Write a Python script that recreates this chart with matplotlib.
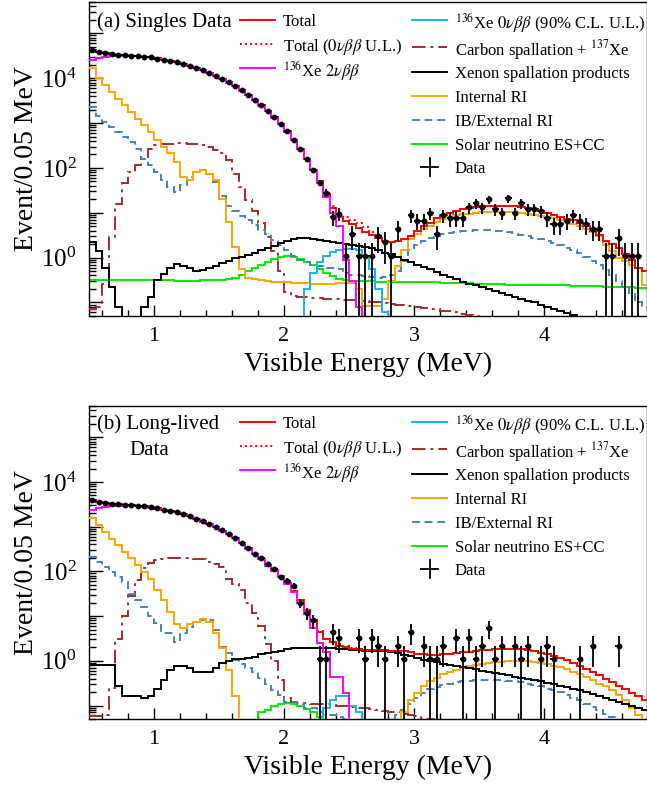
import numpy as np
import matplotlib
matplotlib.use("Agg")
import matplotlib.pyplot as plt
from matplotlib.lines import Line2D
from matplotlib.ticker import LogLocator, FixedLocator, NullFormatter, FuncFormatter, MultipleLocator

plt.rcParams['font.family'] = ['Liberation Serif', 'DejaVu Serif']
plt.rcParams['mathtext.fontset'] = 'stix'

# ---------------- binning ----------------
bin_width = 0.05
e_min, e_max = 0.5, 4.8
edges = np.round(np.arange(e_min, e_max + bin_width / 2, bin_width), 3)
centers = 0.5 * (edges[:-1] + edges[1:])

# ---------------- panel (a): Singles data ----------------
data_a = [
    41500, 38000, 36000, 34400, 33200, 32600, 32000, 31500, 30400, 29400,
    27400, 26100, 24300, 22700, 20900, 19100, 17000, 15100, 13300, 11400,
    9800, 8100, 6600, 5400, 4200, 3270, 2480, 1890, 1340, 930,
    660, 430, 270, 162, 92, 46, 28, 8.0, 9.5, 1.1,
    3.3, 1.1, 1.1, 1.1, 3.0, 2.2, 1.1, 4.4, 0, 8.8,
    6.6, 6.6, 9.9, 3.3, 8.8, 7.7, 7.7, 7.7, 13.2, 16.5,
    13.2, 19.8, 12.1, 9.9, 20.9, 9.9, 16.5, 12.1, 12.1, 11.0,
    7.7, 5.5, 5.5, 6.6, 8.8, 6.6, 5.5, 4.4, 4.4, 1.1,
    1.1, 2.75, 1.1, 1.1, 1.1, 0]
total_a = [
    42000, 38500, 36000, 34500, 33300, 32600, 32000, 31300, 30400, 29300,
    27600, 26000, 24400, 22700, 20900, 19000, 17000, 15100, 13200, 11400,
    9700, 8100, 6700, 5400, 4200, 3250, 2480, 1870, 1350, 940,
    650, 430, 270, 160, 92, 50, 25, 13, 8.0, 6.5,
    5.5, 4.5, 3.7, 3.2, 2.8, 2.4, 2.2, 2.3, 2.6, 3.1,
    3.9, 5.0, 6.0, 7.5, 8.7, 10, 11, 12, 13, 13.5,
    14, 14.3, 14.5, 14.5, 14.5, 14, 13.5, 12.8, 12, 11,
    10, 9, 8, 7.3, 6.8, 6.0, 5.0, 4.0, 3.2, 2.4,
    2.0, 1.6, 1.2, 0.9, 0.6, 0.5]
xe2v_a = [
    26000, 28000, 29500, 30500, 31000, 31000, 31000, 30800, 30000, 29000,
    27300, 25800, 24200, 22600, 20800, 18900, 16900, 15000, 13100, 11300,
    9600, 8000, 6600, 5300, 4150, 3200, 2450, 1850, 1330, 930,
    640, 420, 265, 155, 88, 45, 22, 10, 5.0, 0.9,
    0.3, 0.08] + [0] * 44
xe0v_a = [0] * 33 + [0.2, 0.45, 0.8, 1.1, 1.35, 1.5, 1.55, 1.55, 1.5, 1.1, 0.55, 0.2, 0.06] + [0] * 40
carbon_a = [
    0.07, 0.08, 0.26, 2.9, 16, 45, 80, 115, 178, 270,
    325, 345, 350, 355, 355, 350, 340, 325, 300, 250,
    210, 150, 75, 38, 19, 11, 6.0, 2.9, 1.4, 0.5,
    0.17, 0.14, 0.135, 0.13, 0.128, 0.125, 0.122, 0.12, 0.118, 0.115,
    0.112, 0.11, 0.107, 0.104, 0.10, 0.097, 0.094, 0.09, 0.087, 0.083,
    0.08, 0.077, 0.073, 0.07, 0.066, 0.063, 0.06, 0.056, 0.053, 0.05,
    0.047, 0.044, 0.04, 0.038, 0.036, 0.034, 0.032, 0.03, 0.028, 0.027,
    0.026, 0.025, 0.024, 0.023, 0.022, 0.021, 0.02, 0.019, 0.018, 0.017,
    0.016, 0.015, 0.014, 0.013, 0.012, 0.011]
xenon_a = [
    2.2, 1.4, 0.59, 0.22, 0.078, 0.03, 0.03, 0.048, 0.078, 0.13,
    0.31, 0.44, 0.59, 0.72, 0.66, 0.59, 0.51, 0.53, 0.59, 0.66,
    0.77, 0.85, 1.0, 1.05, 1.15, 1.3, 1.45, 1.6, 1.8, 2.1,
    2.35, 2.6, 2.7, 2.75, 2.6, 2.5, 2.3, 2.2, 2.1, 2.0,
    1.95, 1.85, 1.75, 1.6, 1.45, 1.3, 1.2, 1.05, 0.9, 0.8,
    0.7, 0.62, 0.55, 0.48, 0.42, 0.37, 0.33, 0.29, 0.26, 0.24,
    0.22, 0.2, 0.18, 0.165, 0.15, 0.135, 0.12, 0.11, 0.1, 0.09,
    0.08, 0.072, 0.065, 0.058, 0.053, 0.048, 0.044, 0.04, 0.036, 0.033,
    0.03, 0.027, 0.025, 0.023, 0.021, 0.019]
internal_a = [
    16600, 10000, 7000, 5000, 3500, 2500, 1800, 1260, 900, 640,
    420, 300, 210, 135, 63, 53, 81, 89, 74, 53,
    20, 6.2, 1.7, 0.56, 0.36, 0.33, 0.31, 0.30, 0.29, 0.28,
    0.28, 0.27, 0.27, 0.27, 0.26, 0.26, 0.26, 0.26, 0.27, 0.27,
    0.27, 0.20, 0.085, 0.085, 0.085, 0.12, 0.30, 0.64, 1.45, 2.6,
    3.4, 4.4, 5.2, 6.2, 7.3, 8.0, 8.7, 9.2, 9.6, 10.0,
    10.2, 10.4, 10.5, 10.5, 10.4, 10.2, 10.0, 9.5, 9.0, 8.5,
    8.0, 7.5, 7.0, 6.3, 5.6, 5.0, 4.4, 3.7, 3.0, 1.9,
    1.4, 1.0, 0.85, 0.70, 0.60, 0.25]
external_a = [
    2300, 1450, 1080, 830, 640, 490, 380, 270, 162, 115,
    81, 53, 38, 29, 41, 63, 81, 89, 74, 49,
    24, 14, 11, 8.5, 6.8, 5.3, 4.2, 3.3, 2.5, 1.9,
    1.45, 1.1, 0.9, 0.78, 0.70, 0.65, 0.60, 0.58, 0.56, 0.45,
    0.42, 0.40, 0.38, 0.37, 0.36, 0.37, 0.40, 0.50, 0.85, 1.45,
    1.9, 2.4, 2.8, 3.1, 3.4, 3.6, 3.8, 3.9, 4.0, 4.05,
    4.1, 4.1, 4.0, 3.9, 3.7, 3.5, 3.2, 3.0, 2.8, 2.6,
    2.3, 2.1, 1.9, 1.65, 1.45, 1.25, 1.05, 0.85, 0.68, 0.52,
    0.40, 0.30, 0.22, 0.16, 0.10, 0.08]
solar_a = [
    0.32, 0.32, 0.32, 0.32, 0.32, 0.32, 0.32, 0.32, 0.315, 0.315,
    0.31, 0.31, 0.31, 0.305, 0.305, 0.305, 0.305, 0.31, 0.31, 0.315,
    0.32, 0.33, 0.36, 0.42, 0.50, 0.60, 0.70, 0.80, 0.92, 1.02,
    1.08, 1.05, 0.95, 0.82, 0.68, 0.55, 0.45, 0.38, 0.33, 0.31,
    0.30, 0.30, 0.30, 0.30, 0.29, 0.29, 0.29, 0.29, 0.29, 0.28,
    0.28, 0.28, 0.28, 0.28, 0.27, 0.27, 0.27, 0.27, 0.27, 0.26,
    0.26, 0.26, 0.26, 0.26, 0.25, 0.25, 0.25, 0.25, 0.25, 0.24,
    0.24, 0.24, 0.24, 0.24, 0.23, 0.23, 0.23, 0.23, 0.23, 0.22,
    0.22, 0.22, 0.22, 0.22, 0.21, 0.21]

# ---------------- panel (b): Long-lived data ----------------
data_b = [
    4000, 3650, 3400, 3250, 3150, 3080, 3000, 2930, 2850, 2700,
    2560, 2420, 2270, 2100, 1900, 1700, 1500, 1320, 1130, 980,
    830, 700, 560, 440, 330, 250, 200, 150, 115, 76,
    62, 47, 19.5, 11.7, 8.0, 1.1, 1.1, 4.4, 3.3, 0,
    0, 3.3, 1.1, 3.3, 2.2, 1.1, 0, 2.2, 1.1, 4.4,
    0, 2.2, 1.1, 1.1, 2.2, 0, 3.3, 1.1, 3.3, 1.1,
    2.2, 5.5, 1.1, 2.2, 0, 2.2, 1.1, 2.2, 0, 1.1,
    2.2, 1.1, 0, 0, 0, 1.1, 0, 2.2, 0, 0,
    0, 2.2, 0, 0, 0, 0]
total_b = [
    4050, 3650, 3420, 3260, 3150, 3070, 3000, 2920, 2830, 2700,
    2570, 2420, 2260, 2090, 1900, 1700, 1500, 1310, 1130, 970,
    820, 690, 560, 440, 330, 250, 190, 140, 105, 78,
    55, 37, 23, 14, 8.0, 4.5, 3.0, 2.6, 2.2, 2.0,
    1.85, 1.8, 1.75, 1.75, 1.75, 1.75, 1.7, 1.7, 1.65, 1.55,
    1.45, 1.4, 1.38, 1.38, 1.4, 1.45, 1.5, 1.55, 1.6, 1.65,
    1.72, 1.78, 1.82, 1.85, 1.87, 1.85, 1.8, 1.72, 1.63, 1.53,
    1.42, 1.3, 1.15, 1.02, 0.9, 0.78, 0.67, 0.57, 0.48, 0.4,
    0.34, 0.28, 0.23, 0.19, 0.16, 0.13]
xe2v_b = [
    2400, 2650, 2800, 2900, 2950, 2950, 2930, 2880, 2800, 2670,
    2540, 2400, 2250, 2080, 1890, 1690, 1490, 1300, 1120, 960,
    810, 680, 550, 430, 320, 245, 185, 135, 100, 74,
    52, 34, 20, 11, 5.5, 2.5, 1.6, 0.44, 0.44, 0.19,
    0.03] + [0] * 45
xe0v_b = [0] * 35 + [0.04, 0.09, 0.135, 0.16, 0.16, 0.1, 0.07, 0.03] + [0] * 43
carbon_b = [
    0.057, 0.057, 0.06, 0.25, 3.0, 10, 28, 65, 120, 155,
    178, 190, 195, 195, 195, 195, 192, 185, 165, 150,
    127, 69, 53, 38, 19.5, 11.5, 5.9, 2.4, 1.0, 0.38,
    0.15, 0.12, 0.115, 0.113, 0.11, 0.108, 0.106, 0.104, 0.1, 0.097,
    0.094, 0.09, 0.087, 0.083, 0.08, 0.077, 0.073, 0.07, 0.066, 0.062,
    0.058, 0.054, 0.05, 0.047, 0.044, 0.041, 0.039, 0.037, 0.035, 0.033,
    0.031, 0.03, 0.028, 0.027, 0.025, 0.024, 0.023, 0.022, 0.021, 0.02,
    0.019, 0.018, 0.017, 0.016, 0.015, 0.014, 0.013, 0.012, 0.011, 0.01,
    0.01, 0.009, 0.009, 0.008, 0.008, 0.007]
xenon_b = [
    0.8, 0.8, 0.8, 0.8, 0.27, 0.16, 0.16, 0.16, 0.15, 0.16,
    0.23, 0.38, 0.63, 0.75, 0.77, 0.7, 0.55, 0.55, 0.57, 0.7,
    0.9, 1.0, 1.1, 1.12, 1.15, 1.2, 1.4, 1.5, 1.6, 1.7,
    1.8, 1.9, 1.95, 1.95, 1.95, 1.95, 1.9, 1.9, 1.85, 1.8,
    1.75, 1.75, 1.7, 1.7, 1.7, 1.65, 1.6, 1.5, 1.35, 1.25,
    1.15, 1.05, 0.98, 0.92, 0.86, 0.8, 0.76, 0.72, 0.68, 0.64,
    0.6, 0.56, 0.53, 0.5, 0.47, 0.44, 0.42, 0.4, 0.37, 0.35,
    0.32, 0.3, 0.28, 0.26, 0.24, 0.22, 0.2, 0.18, 0.165, 0.15,
    0.135, 0.12, 0.11, 0.1, 0.09, 0.08]
internal_b = [
    1580, 1070, 760, 540, 380, 275, 195, 138, 98, 69,
    38, 23, 12.5, 6.5, 5.4, 6.5, 7.5, 8.6, 7.5, 4.2,
    1.95, 0.63, 0.16, 0.04, 0.03, 0.03, 0.03, 0.03, 0.03, 0.03,
    0.03, 0.03, 0.03, 0.03, 0.03, 0.03, 0.03, 0.03, 0.03, 0.03,
    0.03, 0.03, 0.03, 0.03, 0.03, 0.03, 0.03, 0.04, 0.07, 0.13,
    0.19, 0.27, 0.35, 0.42, 0.5, 0.56, 0.62, 0.68, 0.75, 0.8,
    0.85, 0.9, 0.93, 0.96, 0.98, 1.0, 1.0, 0.98, 0.95, 0.9,
    0.85, 0.78, 0.72, 0.65, 0.57, 0.5, 0.43, 0.37, 0.31, 0.27,
    0.22, 0.17, 0.13, 0.09, 0.06, 0.03]
external_b = [
    210, 162, 126, 98, 76, 59, 32, 23, 16, 10,
    7.0, 4.2, 4.2, 2.7, 4.2, 5.8, 7.5, 8.2, 8.2, 5.0,
    2.0, 1.5, 1.05, 0.83, 0.70, 0.55, 0.42, 0.30, 0.22, 0.17,
    0.12, 0.12, 0.11, 0.09, 0.09, 0.07, 0.06, 0.06, 0.055, 0.05,
    0.045, 0.04, 0.04, 0.04, 0.04, 0.045, 0.05, 0.06, 0.08, 0.11,
    0.15, 0.19, 0.23, 0.26, 0.29, 0.31, 0.33, 0.35, 0.36, 0.37,
    0.38, 0.38, 0.38, 0.37, 0.36, 0.35, 0.33, 0.31, 0.29, 0.27,
    0.24, 0.22, 0.20, 0.17, 0.15, 0.13, 0.11, 0.095, 0.08, 0.065,
    0.055, 0.045, 0.035, 0.03, 0.025, 0.02]
solar_b = [0.03] * 25 + [0.045, 0.07, 0.08, 0.1, 0.11, 0.115, 0.11, 0.1, 0.085, 0.07, 0.055, 0.045] + [0.03] * 49

labels = {
    'total': 'Total',
    'total_ul': r'Total ($0\nu\beta\beta$ U.L.)',
    'xe2v': r'$^{136}$Xe $2\nu\beta\beta$',
    'xe0v': r'$^{136}$Xe $0\nu\beta\beta$ (90% C.L. U.L.)',
    'carbon': r'Carbon spallation + $^{137}$Xe',
    'xenon': 'Xenon spallation products',
    'internal': 'Internal RI',
    'external': 'IB/External RI',
    'solar': 'Solar neutrino ES+CC',
    'data': 'Data',
}
styles = {
    'total': dict(color='#FF0000', ls='-'),
    'total_ul': dict(color='#FF0000', ls=(0, (1.0, 1.6))),
    'xe2v': dict(color='#FF00FF', ls='-'),
    'xe0v': dict(color='#14B4F0', ls='-'),
    'carbon': dict(color='#A52A2A', ls=(0, (7, 2.5, 1.5, 2.5))),
    'xenon': dict(color='black', ls='-'),
    'internal': dict(color='#FFA500', ls='-'),
    'external': dict(color='#4682B4', ls=(0, (4, 2.5))),
    'solar': dict(color='#00EE00', ls='-'),
}
LW = 1.4

W, H = 647, 789
fig = plt.figure(figsize=(W / 100, H / 100), dpi=100)

AX_L, AX_R = 89, 647


def px_axes(left, top, right, bottom):
    return fig.add_axes([left / W, 1 - bottom / H, (right - left) / W, (bottom - top) / H])


def draw_legend(ax, top_px):
    """Manual legend placed in figure pixels (ROOT-like layout)."""
    def fx(x):
        return x / W

    def fy(y):
        return 1 - (top_px + y) / H

    left_keys = ['total', 'total_ul', 'xe2v']
    left_rows = [18, 42, 66]
    right_keys = ['xe0v', 'carbon', 'xenon', 'internal', 'external', 'solar']
    right_rows = [18, 44.5, 69.5, 94, 117.5, 141.5, 165]
    for key, yr in zip(left_keys, left_rows):
        fig.add_artist(Line2D([fx(240), fx(275)], [fy(yr), fy(yr)], lw=LW, transform=fig.transFigure, **styles[key]))
        fig.text(fx(283), fy(yr), labels[key], fontsize=12, ha='left', va='center_baseline')
    for key, yr in zip(right_keys, right_rows[:-1]):
        fig.add_artist(Line2D([fx(412), fx(447)], [fy(yr), fy(yr)], lw=LW, transform=fig.transFigure, **styles[key]))
        fig.text(fx(455), fy(yr), labels[key], fontsize=12, ha='left', va='center_baseline')
    yd = right_rows[-1]
    fig.add_artist(Line2D([fx(421), fx(438)], [fy(yd), fy(yd)], lw=1.3, color='black', transform=fig.transFigure))
    fig.add_artist(Line2D([fx(429.5), fx(429.5)], [fy(yd - 9), fy(yd + 9)], lw=1.3, color='black', transform=fig.transFigure))
    fig.text(fx(455), fy(yd), labels['data'], fontsize=12, ha='left', va='center_baseline')


def draw_panel(ax, series, data, top_px, panel_lines):
    order = ['solar', 'carbon', 'external', 'internal', 'xenon', 'xe0v', 'total_ul', 'total', 'xe2v']
    zord = {k: 2 + i for i, k in enumerate(order)}
    for key in order:
        v = np.asarray(series[key], float)
        assert v.size == centers.size, (key, v.size)
        v = np.where(v > 0, v, 1e-6)
        ax.stairs(v, edges, baseline=None, lw=LW, zorder=zord[key], **styles[key])
    d = np.asarray(data, float)
    assert d.size == centers.size
    m = d > 0
    err = np.sqrt(d[m])
    lower = np.minimum(err, d[m] * 0.999)
    ax.errorbar(centers[m], d[m], xerr=bin_width / 2, yerr=[lower, err], fmt='o',
                color='black', ms=3.2, elinewidth=1.3, capsize=0, zorder=20)

    ax.set_yscale('log')
    ax.set_xlim(0.5, 0.5 + (AX_R - AX_L) / 130)
    ax.set_ylim(0.05, 5e5)
    ax.yaxis.set_major_locator(LogLocator(base=10, numticks=20))
    ax.yaxis.set_minor_locator(LogLocator(base=10, subs=np.arange(2, 10), numticks=20))
    ax.yaxis.set_minor_formatter(NullFormatter())
    ax.yaxis.set_major_formatter(FuncFormatter(
        lambda v, p: (r'$\mathdefault{10^{%d}}$' % round(np.log10(v))) if round(np.log10(v)) % 2 == 0 else ''))
    ax.xaxis.set_major_locator(FixedLocator([1, 2, 3, 4]))
    ax.xaxis.set_minor_locator(MultipleLocator(0.2))
    ax.tick_params(which='both', direction='in', top=False, right=False, width=1.0)
    ax.tick_params(axis='y', which='major', length=10, labelsize=18, pad=9)
    ax.tick_params(axis='y', which='minor', length=5)
    ax.tick_params(axis='x', which='major', length=8, labelsize=16, pad=8)
    ax.tick_params(axis='x', which='minor', length=4)
    for s in ax.spines.values():
        s.set_linewidth(1.0)
    ax.set_xlabel('Visible Energy (MeV)', fontsize=20)
    ax.xaxis.set_label_coords(0.5, -0.115)
    ax.set_ylabel('Event/0.05 MeV', fontsize=20)
    ax.yaxis.set_label_coords(-0.09, 0.5)

    draw_legend(ax, top_px)
    for (txt, x, y) in panel_lines:
        fig.text(x / W, 1 - (top_px + y) / H, txt, fontsize=15, ha='left', va='center_baseline')


ax_a = px_axes(AX_L, 2, AX_R, 316)
ax_b = px_axes(AX_L, 406, AX_R, 719)

series_a = dict(total=total_a, total_ul=list(np.add(total_a, xe0v_a)), xe2v=xe2v_a, xe0v=xe0v_a,
                carbon=carbon_a, xenon=xenon_a, internal=internal_a, external=external_a, solar=solar_a)
series_b = dict(total=total_b, total_ul=list(np.add(total_b, xe0v_b)), xe2v=xe2v_b, xe0v=xe0v_b,
                carbon=carbon_b, xenon=xenon_b, internal=internal_b, external=external_b, solar=solar_b)

draw_panel(ax_a, series_a, data_a, 2, [('(a) Singles Data', 97, 18)])
draw_panel(ax_b, series_b, data_b, 404, [('(b) Long-lived', 97, 18), ('Data', 129, 44)])

fig.savefig('out.png', dpi=100)
